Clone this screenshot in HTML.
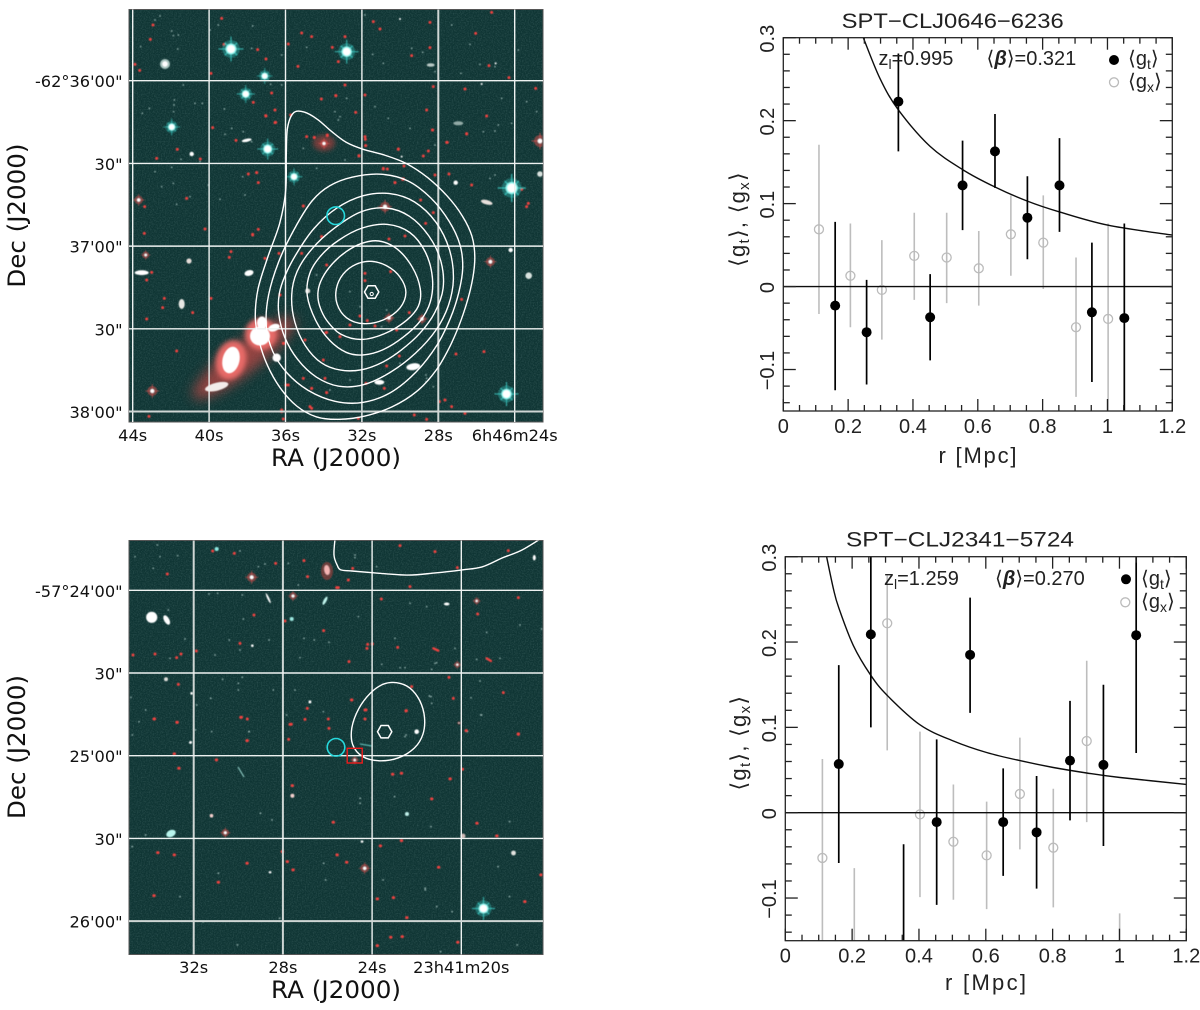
<!DOCTYPE html>
<html lang="en">
<head>
<meta charset="utf-8">
<title>SPT cluster images and shear profiles</title>
<style>
html,body{margin:0;padding:0;background:#fff;width:1200px;height:1010px;overflow:hidden}
svg{display:block}
.sky-label{font-family:"DejaVu Sans","Liberation Sans",sans-serif;fill:#111}
.plot-label{font-family:"Liberation Sans","DejaVu Sans",sans-serif;fill:#222}
.sub{font-size:14px}
.ysub{font-size:15px}
.br{font-family:"DejaVu Sans","Liberation Sans",sans-serif}
.rd{stroke:#ec4341;fill:none;stroke-linecap:round}
.gy{stroke:#b4d0cc;fill:none;stroke-linecap:round;opacity:.8}
.wh{stroke:#fff;fill:none;stroke-linecap:round}
</style>
</head>
<body>
<svg id="fig" xmlns="http://www.w3.org/2000/svg" width="1200" height="1010" viewBox="0 0 1200 1010">
<defs>
  <clipPath id="clipA"><rect x="129" y="9.5" width="414" height="412.5"/></clipPath>
  <clipPath id="clipB"><rect x="129" y="540.5" width="414" height="414"/></clipPath>
  <filter id="soft" x="-5%" y="-5%" width="110%" height="110%"><feGaussianBlur stdDeviation="0.4"/></filter>
  <filter id="halo" x="-60%" y="-60%" width="220%" height="220%"><feGaussianBlur stdDeviation="6"/></filter>
  <filter id="halo2" x="-60%" y="-60%" width="220%" height="220%"><feGaussianBlur stdDeviation="2.4"/></filter>
  <filter id="line-soft" x="-2%" y="-2%" width="104%" height="104%"><feGaussianBlur stdDeviation="0.3"/></filter>
  <filter id="grain" x="0" y="0" width="100%" height="100%">
    <feTurbulence type="fractalNoise" baseFrequency="0.75" numOctaves="2" seed="4"/>
    <feColorMatrix type="matrix" values="0 0 0 0 0.32  0 0 0 0 0.5  0 0 0 0 0.48  0 0 0 1.1 -0.42"/>
  </filter>
  <g id="star-c">
    <circle r="7" fill="#35d2cc" opacity=".35"/>
    <path d="M-10 0H10M0-10V10M-5-5L5 5M-5 5L5-5" stroke="#3fd8d0" stroke-width="1" opacity=".7"/>
    <circle r="4.4" fill="#8ff4ee"/>
    <circle r="3.2" fill="#fff"/>
  </g>
  <g id="star-r">
    <circle r="5" fill="#e04d4b" opacity=".5"/>
    <path d="M-7 0H7M0-7V7" stroke="#e25a58" stroke-width=".8" opacity=".7"/>
    <circle r="2" fill="#fff"/>
  </g>
</defs>

<!-- TOP SKY IMAGE -->
<g id="skyA">
  <g clip-path="url(#clipA)">
    <rect x="129" y="9.5" width="414" height="412.5" fill="#0f3534"/>
    <rect x="129" y="9.5" width="414" height="412.5" filter="url(#grain)" opacity=".35"/>
    <g>
      <ellipse cx="244" cy="358" rx="64" ry="15" transform="rotate(-38 244 358)" fill="#b04644" opacity=".8" filter="url(#halo)"/>
      <ellipse cx="324" cy="143" rx="11" ry="8" fill="#a8403e" opacity=".65" filter="url(#halo2)"/>
      <ellipse cx="261" cy="334" rx="16" ry="16" fill="#ee6d6a" opacity=".95" filter="url(#halo2)"/>
      <ellipse cx="231" cy="360" rx="15" ry="20" transform="rotate(15 231 360)" fill="#ee6d6a" opacity=".95" filter="url(#halo2)"/>
    </g>
    <g filter="url(#soft)">
      <g transform="translate(125,5) scale(.3333)">
        <path class="gy" stroke-width="5" d="M140 78h0M145 92h0M160 90h0M105 33h0M383 63h0M545 127h0M470 150h0M437 238h0M148 285h0M147 300h0M146 320h0M232 295h0M52 325h0M73 310h0M298 312h0M450 315h0M300 388h0M320 370h0M355 380h0M175 240h0M210 295h0M145 535h0M110 545h0M155 598h0M285 583h0M360 570h0M380 410h0M470 240h0M630 320h0M640 345h0M535 430h0M47 125h0M90 45h0M158 132h0M280 60h0M255 75h0M380 130h0M575 490h0M168 463h0M140 487h0M90 500h0M250 540h0M195 575h0M353 515h0M225 470h0"/>
      </g>
      <g transform="translate(335,5) scale(.3333)">
        <path class="gy" stroke-width="5" d="M90 30h0M113 148h0M145 175h0M230 130h0M263 142h0M350 60h0M405 118h0M435 178h0M480 185h0M378 205h0M550 135h0M500 280h0M575 290h0M605 320h0M530 355h0M445 380h0M480 378h0M35 280h0M120 305h0M160 340h0M225 370h0M490 360h0M465 520h0M480 510h0M300 420h0M30 465h0M15 335h0M300 200h0"/>
        <path class="wh" stroke-width="6" d="M440 237h0M482 175h0M200 455h0M195 42h0"/>
      </g>
      <g transform="translate(250,260) scale(.3333)">
        <path class="gy" stroke-width="5" d="M300 95h0M200 45h0M410 150h0M450 310h0M530 355h0M528 345h0M528 365h0M550 380h0M330 140h0M395 200h0M240 390h0M300 360h0"/>
      </g>
      <g transform="translate(125,5) scale(.3333)">
        <path class="rd" stroke-width="9" d="M84 60h0M76 103h0M290 40h0M297 118h0M423 162h0M398 134h0M560 95h0M622 127h0M519 184h0M530 84h0M490 117h0M44 196h0M30 178h0M258 205h0M440 264h0M385 292h0M589 282h0M633 272h0M263 368h0M333 406h0M423 333h0M452 352h0M370 507h0M535 603h0M59 605h0M157 433h0M226 462h0M395 503h0M400 533h0M95 460h0M185 580h0M568 398h0M597 416h0M607 392h0M545 395h0"/>
      </g>
      <g transform="translate(335,5) scale(.3333)">
        <path class="rd" stroke-width="9" d="M135 72h0M230 152h0M285 52h0M115 50h0M285 128h0M30 95h0M10 170h0M470 22h0M422 85h0M462 182h0M522 218h0M295 245h0M390 252h0M602 250h0M275 315h0M292 375h0M395 386h0M335 412h0M455 333h0M90 395h0M92 422h0M190 432h0M72 452h0M280 438h0M265 453h0M145 490h0M157 492h0M207 483h0M180 533h0M205 522h0M300 510h0M342 507h0M410 540h0M560 553h0M580 595h0M575 605h0M30 240h0M90 270h0M62 322h0M2 272h0"/>
      </g>
      <g transform="translate(125,215) scale(.3333)">
        <path class="rd" stroke-width="9" d="M58 55h0M240 42h0M383 58h0M400 43h0M318 110h0M313 127h0M420 130h0M80 172h0M65 195h0M118 250h0M65 312h0M203 293h0M113 278h0M258 250h0M465 240h0M155 408h0M72 604h0M475 612h0M470 590h0M462 115h0M530 115h0M605 150h0M590 65h0M605 352h0M540 375h0M478 385h0M600 490h0M560 520h0M605 533h0M555 575h0M490 510h0"/>
      </g>
      <g transform="translate(250,260) scale(.3333)">
        <path class="rd" stroke-width="9" d="M90 105h0M345 40h0M345 62h0M422 35h0M352 182h0M330 168h0M478 158h0M635 118h0M228 218h0M100 250h0M410 318h0M448 288h0M160 355h0M185 385h0M230 398h0M348 370h0M403 385h0M108 375h0M185 445h0M95 450h0M325 475h0M493 465h0M530 478h0M585 420h0M605 440h0M568 425h0M645 460h0M702 275h0M618 282h0M300 195h0M375 198h0M440 210h0M270 230h0M220 300h0"/>
      </g>
      <g transform="translate(250,100) scale(.3333)">
        <path class="rd" stroke-width="9" d="M193 112h0M232 105h0M160 318h0M8 405h0M215 410h0M346 118h0M347 137h0M327 168h0M445 148h0M400 207h0M435 248h0M458 238h0M527 370h0M417 417h0M550 338h0M512 300h0M465 408h0M548 90h0M650 102h0M592 127h0M75 30h0M47 47h0M20 218h0M75 68h0M122 45h0"/>
      </g>
      <g>
        <use href="#star-c" transform="translate(231,49) scale(1.25)"/>
        <use href="#star-c" transform="translate(267.7,149) scale(1.05)"/>
        <use href="#star-c" transform="translate(171.7,127) scale(.85)"/>
        <use href="#star-c" transform="translate(245.7,94) scale(.9)"/>
        <use href="#star-c" transform="translate(264.7,76) scale(.8)"/>
        <use href="#star-c" transform="translate(294,176.7) scale(.85)"/>
        <use href="#star-c" transform="translate(346.7,51.7) scale(1.2)"/>
        <use href="#star-c" transform="translate(511.7,188) scale(1.4)"/>
        <use href="#star-c" transform="translate(506.5,394) scale(1.2)"/>
        <use href="#star-r" transform="translate(540,141) scale(1.2)"/>
        <use href="#star-r" transform="translate(385,206.7) scale(1)"/>
        <use href="#star-r" transform="translate(152.3,391) scale(1)"/>
        <use href="#star-r" transform="translate(138.7,200) scale(.85)"/>
        <use href="#star-r" transform="translate(145.7,255) scale(.7)"/>
        <use href="#star-r" transform="translate(490.4,261.7) scale(.9)"/>
        <use href="#star-r" transform="translate(422,319) scale(.8)"/>
        <use href="#star-r" transform="translate(389,318) scale(.8)"/>
        <use href="#star-r" transform="translate(324,143.5) scale(.8)"/>
      </g>
      <g fill="#fff">
        <ellipse cx="165" cy="64" rx="5" ry="5" fill="#a9c4bf"/><circle cx="165" cy="64" r="2.7"/>
        <circle cx="191.7" cy="154" r="2.2"/>
        <ellipse cx="246.7" cy="140.3" rx="5" ry="1.6" transform="rotate(-12 246.7 140.3)"/>
        <ellipse cx="458.3" cy="123.3" rx="5" ry="2" fill="#92aaa6"/>
        <ellipse cx="430.7" cy="65" rx="4" ry="1.8" fill="#b7c8c4"/>
        <ellipse cx="486.7" cy="202.3" rx="6" ry="2.2" transform="rotate(15 486.7 202.3)" fill="#e8e0dc"/>
        <circle cx="455.7" cy="182.7" r="2.2"/>
        <circle cx="540" cy="174" r="2.8" fill="#d8e2de"/>
        <circle cx="528.7" cy="275.7" r="3.3" fill="#d8e2de"/>
        <circle cx="510.7" cy="250" r="2.2"/>
        <ellipse cx="413.3" cy="366.7" rx="7" ry="3.4" transform="rotate(-8 413.3 366.7)"/>
        <ellipse cx="379.3" cy="382.3" rx="5" ry="2.4"/>
        <ellipse cx="141.7" cy="272.7" rx="7" ry="2.4"/>
        <ellipse cx="249" cy="273" rx="4.6" ry="2.8" transform="rotate(-15 249 273)"/>
        <ellipse cx="181.7" cy="304" rx="3" ry="5" fill="#e8e8e4"/>
        <circle cx="189" cy="261" r="2.6" fill="#e4dcd8"/>
        <circle cx="307.7" cy="291" r="2.5" fill="#dcdcd8"/>
        <circle cx="276.7" cy="357.7" r="4.2"/>
        <ellipse cx="216.7" cy="386.7" rx="12" ry="4" transform="rotate(-14 216.7 386.7)" fill="#f3ecea"/>
        <ellipse cx="231" cy="360" rx="8.5" ry="13.5" transform="rotate(13 231 360)"/>
        <ellipse cx="260" cy="336" rx="10" ry="9.5"/>
        <ellipse cx="262" cy="323" rx="5" ry="6.5"/>
        <ellipse cx="274" cy="327.7" rx="6" ry="3.6" transform="rotate(-20 274 327.7)"/>
      </g>
    </g>
  </g>
  <rect x="129" y="9.5" width="414" height="412.5" fill="none" stroke="#555" stroke-width="1"/>
</g>
<g id="gridA"></g>
<g id="contA" clip-path="url(#clipA)"></g>
<g fill="none">
  <circle cx="335.7" cy="215.7" r="8.8" stroke="#27d8dc" stroke-width="1.6"/>
  <polygon points="364.5,292 368,285.8 375.2,285.8 378.8,292 375.2,298.2 368,298.2" stroke="#fff" stroke-width="1.5"/>
  <circle cx="371.7" cy="294" r="1.6" stroke="#fff" stroke-width="1"/>
</g>
<g id="labelsA"></g>
<text class="sky-label" x="336" y="466" font-size="24" text-anchor="middle" textLength="130" lengthAdjust="spacingAndGlyphs">RA (J2000)</text>
<text class="sky-label" transform="translate(25,215.6) rotate(-90)" font-size="24" text-anchor="middle" textLength="144" lengthAdjust="spacingAndGlyphs">Dec (J2000)</text>

<!-- BOTTOM SKY IMAGE -->
<g id="skyB">
  <g clip-path="url(#clipB)">
    <rect x="129" y="540.5" width="414" height="414" fill="#0f3534"/>
    <rect x="129" y="540.5" width="414" height="414" filter="url(#grain)" opacity=".35"/>
    <g filter="url(#soft)">
      <ellipse cx="327" cy="571" rx="6" ry="9" fill="#a8403e" opacity=".6"/>
      <g transform="translate(125,535) scale(.3333)">
        <path class="gy" stroke-width="5" d="M30 65h0M85 100h0M105 65h0M158 62h0M97 30h0M352 180h0M278 175h0M252 177h0M355 252h0M345 48h0M400 95h0M420 87h0M490 85h0M545 125h0M520 150h0M313 315h0M345 345h0M130 225h0M180 312h0M135 370h0M270 360h0M215 510h0M340 445h0M340 465h0M352 427h0M293 433h0M445 465h0M510 465h0M18 487h0M62 525h0M42 560h0M22 600h0M260 590h0M372 590h0M485 540h0M595 530h0M432 315h0M537 310h0M568 315h0M612 322h0M525 368h0"/>
        <path class="wh" stroke-width="8" d="M555 500h0M382 332h0M200 475h0M197 622h0"/>
      </g>
      <g transform="translate(335,535) scale(.3333)">
        <path class="gy" stroke-width="5" d="M70 245h0M60 68h0M125 95h0M300 385h0M305 383h0M140 388h0M195 398h0M210 398h0M290 403h0M283 483h0M408 488h0M440 540h0M435 438h0M360 340h0M425 373h0M455 372h0M495 370h0M555 270h0M620 282h0M225 205h0M275 215h0M455 292h0M210 605h0M290 505h0M180 310h0M60 60h0"/>
      </g>
      <g transform="scale(.3831,.3333) translate(0,1590)">
        <path class="gy" stroke-width="5" d="M680 850h0M710 870h0M570 1030h0M1110 1080h0M1330 1100h0M850 1050h0M940 805h0M1030 800h0M1125 890h0M1180 1145h0M470 1100h0M1300 1010h0M845 1000h0M1000 1050h0M1150 1265h0M620 1245h0M730 1165h0M1350 1245h0M530 1175h0M345 950h0M380 915h0M650 605h0M510 600h0M1060 615h0M1220 605h0M1125 500h0M1255 555h0M550 505h0M1330 875h0M1110 1075h0M1140 1130h0M940 820h0"/>
        <path class="wh" stroke-width="7" d="M945 935h0M705 1027h0M809 517h0M497 638h0"/>
        <path class="rd" stroke-width="9" d="M1175 747h0M1048 730h0M1025 733h0M1207 718h0M1127 807h0M763 767h0M645 632h0M462 577h0M565 690h0M467 715h0M455 672h0M412 968h0M455 975h0M737 965h0M750 995h0M765 1020h0M905 997h0M985 1107h0M1027 1103h0M1062 1163h0M402 1097h0M570 1057h0M1245 880h0M1297 918h0M870 877h0M1048 932h0M993 948h0M1020 1222h0M1050 1220h0M985 1247h0M1195 1237h0M1370 1115h0M1412 1035h0M1353 612h0M1217 602h0M1060 543h0M955 540h0M918 510h0M630 562h0M403 567h0M760 583h0M645 1000h0M880 975h0M1145 1012h0"/>
      </g>
      <g transform="translate(125,535) scale(.3333)">
        <path class="rd" stroke-width="9" d="M127 117h0M452 85h0M537 77h0M263 48h0M328 55h0M548 125h0M387 240h0M345 325h0M214 348h0M24 360h0M90 357h0M168 357h0M155 368h0M596 287h0M480 258h0M160 448h0M87 552h0M157 562h0M347 547h0M367 552h0M495 568h0M540 553h0M610 552h0M612 580h0M491 613h0M367 617h0M547 520h0M640 158h0"/>
      </g>
      <g transform="translate(335,535) scale(.3333)">
        <path class="rd" stroke-width="9" d="M195 32h0M300 50h0M520 47h0M53 100h0M40 135h0M5 158h0M139 192h0M225 155h0M230 455h0M214 527h0M90 525h0M90 552h0M50 495h0M355 490h0M550 598h0M98 328h0M112 327h0M96 340h0M42 380h0M188 337h0M428 237h0M550 188h0M367 98h0M505 473h0M342 427h0"/>
        <path class="rd" stroke-width="7" d="M295 340L310 347M455 370L468 378"/>
      </g>
      <g fill="#fff">
        <use href="#star-c" transform="translate(483.5,908.5) scale(1.15)"/>
        <use href="#star-r" transform="translate(251.7,577.3) scale(.95)"/>
        <use href="#star-r" transform="translate(225.3,832.7) scale(.75)"/>
        <use href="#star-r" transform="translate(364.7,868.3) scale(.85)"/>
        <use href="#star-r" transform="translate(459,723) scale(.3)"/>
        <use href="#star-r" transform="translate(293,596) scale(.75)"/>
        <use href="#star-r" transform="translate(476.7,601) scale(.6)"/>
        <use href="#star-r" transform="translate(457.3,664.7) scale(.6)"/>
        <use href="#star-r" transform="translate(354.7,760) scale(.65)"/>
        <ellipse cx="327" cy="570" rx="2.8" ry="5" transform="rotate(-10 327 570)" fill="#f4b4b2"/>
        <circle cx="151.7" cy="617.3" r="5.6"/>
        <ellipse cx="166.7" cy="620" rx="2.6" ry="5.2" transform="rotate(-30 166.7 620)"/>
        <ellipse cx="325" cy="600.7" rx="1.5" ry="4.6" transform="rotate(28 325 600.7)" fill="#bff4ec"/>
        <ellipse cx="268.3" cy="598.3" rx="1" ry="5.5" transform="rotate(-25 268.3 598.3)"/>
        <circle cx="291.7" cy="619" r="2" fill="#9ce8e0"/>
        <circle cx="216.7" cy="549" r="2" fill="#8ce8e0"/>
        <circle cx="166" cy="679.3" r="2" fill="#dcdcd8"/>
        <ellipse cx="446.7" cy="604" rx="2.8" ry="1.5"/>
        <ellipse cx="534.3" cy="557.7" rx="1.5" ry="2.8"/>
        <circle cx="416.7" cy="731.7" r="2.3"/>
        <ellipse cx="171" cy="833.5" rx="5" ry="3.4" transform="rotate(-25 171 833.5)" fill="#b8f4ec"/>
        <circle cx="513.5" cy="853" r="2.4" fill="#e4e4e0"/>
        <circle cx="407" cy="814" r="2" fill="#bff0ea"/>
        <circle cx="292.4" cy="795.7" r="2" fill="#f3cfcc"/>
        <circle cx="211.5" cy="815.7" r="1.8" fill="#f3cfcc"/>
        <circle cx="463" cy="836" r="2.4" fill="#d2bcb8"/>
        <path d="M238 767L244 777" stroke="#9cdcd4" stroke-width="1" fill="none"/>
        <path d="M360 744L372 746" stroke="#6ccfc8" stroke-width="1" fill="none"/>
      </g>
    </g>
  </g>
  <rect x="129" y="540.5" width="414" height="414" fill="none" stroke="#555" stroke-width="1"/>
</g>
<g id="gridB"></g>
<g id="contB" clip-path="url(#clipB)"></g>
<g fill="none">
  <circle cx="336" cy="747.3" r="8.8" stroke="#27d8dc" stroke-width="1.6"/>
  <polygon points="377.5,731.7 381,725.5 388.3,725.5 391.8,731.7 388.3,737.9 381,737.9" stroke="#fff" stroke-width="1.5"/>
  <rect x="347.2" y="748.3" width="15" height="14.7" stroke="#ee1c1c" stroke-width="1.4"/>
</g>
<g id="labelsB"></g>
<text class="sky-label" x="336" y="998" font-size="24" text-anchor="middle" textLength="130" lengthAdjust="spacingAndGlyphs">RA (J2000)</text>
<text class="sky-label" transform="translate(25,747) rotate(-90)" font-size="24" text-anchor="middle" textLength="144" lengthAdjust="spacingAndGlyphs">Dec (J2000)</text>

<!-- TOP SHEAR PLOT -->
<g id="plotA" filter="url(#line-soft)"></g>
<text class="plot-label" x="952.7" y="28" font-size="21" text-anchor="middle" textLength="222" lengthAdjust="spacingAndGlyphs">SPT−CLJ0646−6236</text>
<text class="plot-label" x="878.5" y="65" font-size="20">z<tspan class="sub" dy="4">l</tspan><tspan dy="-4">=0.995</tspan></text>
<text class="plot-label" x="986.5" y="65" font-size="20"><tspan class="br">⟨</tspan><tspan font-style="italic" font-weight="bold">β</tspan><tspan class="br">⟩</tspan>=0.321</text>
<circle cx="1114" cy="60" r="5" fill="#000"/>
<text class="plot-label" x="1128" y="65" font-size="20"><tspan class="br">⟨</tspan>g<tspan class="sub" dy="4">t</tspan><tspan class="br" dy="-4">⟩</tspan></text>
<circle cx="1114" cy="82.3" r="4.5" fill="none" stroke="#bbb" stroke-width="1.3"/>
<text class="plot-label" x="1128" y="88" font-size="20"><tspan class="br">⟨</tspan>g<tspan class="sub" dy="4">x</tspan><tspan class="br" dy="-4">⟩</tspan></text>
<text class="plot-label" x="977.5" y="463" font-size="22" text-anchor="middle" textLength="78" lengthAdjust="spacing">r [Mpc]</text>
<text class="plot-label" transform="translate(745,219) rotate(-90)" font-size="22" letter-spacing="1.3" text-anchor="middle"><tspan class="br">⟨</tspan>g<tspan class="ysub" dy="4">t</tspan><tspan class="br" dy="-4">⟩</tspan>,  <tspan class="br">⟨</tspan>g<tspan class="ysub" dy="4">x</tspan><tspan class="br" dy="-4">⟩</tspan></text>

<!-- BOTTOM SHEAR PLOT -->
<g id="plotB" filter="url(#line-soft)"></g>
<text class="plot-label" x="960" y="546.5" font-size="21" text-anchor="middle" textLength="228" lengthAdjust="spacingAndGlyphs">SPT−CLJ2341−5724</text>
<text class="plot-label" x="884" y="585" font-size="20">z<tspan class="sub" dy="4">l</tspan><tspan dy="-4">=1.259</tspan></text>
<text class="plot-label" x="995" y="585" font-size="20"><tspan class="br">⟨</tspan><tspan font-style="italic" font-weight="bold">β</tspan><tspan class="br">⟩</tspan>=0.270</text>
<circle cx="1126" cy="579.3" r="5" fill="#000"/>
<text class="plot-label" x="1141" y="585" font-size="20"><tspan class="br">⟨</tspan>g<tspan class="sub" dy="4">t</tspan><tspan class="br" dy="-4">⟩</tspan></text>
<circle cx="1125.3" cy="602.3" r="4.5" fill="none" stroke="#bbb" stroke-width="1.3"/>
<text class="plot-label" x="1141" y="608" font-size="20"><tspan class="br">⟨</tspan>g<tspan class="sub" dy="4">x</tspan><tspan class="br" dy="-4">⟩</tspan></text>
<text class="plot-label" x="985.5" y="990" font-size="22" text-anchor="middle" textLength="81" lengthAdjust="spacing">r [Mpc]</text>
<text class="plot-label" transform="translate(746,742.6) rotate(-90)" font-size="22" letter-spacing="1.3" text-anchor="middle"><tspan class="br">⟨</tspan>g<tspan class="ysub" dy="4">t</tspan><tspan class="br" dy="-4">⟩</tspan>,  <tspan class="br">⟨</tspan>g<tspan class="ysub" dy="4">x</tspan><tspan class="br" dy="-4">⟩</tspan></text>
</svg>

<script>
// ---------- Shear profile data: top cluster ----------
const topTanR = [0.16,0.257,0.355,0.453,0.553,0.653,0.753,0.852,0.952,1.052];
const topTanG = [-0.023,-0.055,0.223,-0.037,0.122,0.163,0.083,0.122,-0.031,-0.038];
const topTanHi = [0.078,0.008,0.281,0.015,0.176,0.208,0.133,0.179,0.053,0.076];
const topTanLo = [-0.125,-0.118,0.163,-0.089,0.068,0.119,0.033,0.066,-0.115,-0.152];
const topCrossR = [0.11,0.207,0.304,0.404,0.504,0.603,0.702,0.802,0.903,1.002];
const topCrossG = [0.069,0.013,-0.004,0.037,0.035,0.022,0.063,0.053,-0.049,-0.039];
const topCrossHi = [0.171,0.076,0.056,0.089,0.089,0.067,0.110,0.110,0.035,0.076];
const topCrossLo = [-0.033,-0.049,-0.064,-0.016,-0.020,-0.023,0.013,-0.003,-0.133,-0.152];
const topModelR = [0.2468,0.298,0.355,0.453,0.553,0.653,0.753,0.852,1.002,1.2];
const topModelG = [0.30,0.251,0.213,0.169,0.141,0.120,0.103,0.090,0.074,0.062];

// ---------- Shear profile data: bottom cluster ----------
const botTanR = [0.16,0.256,0.354,0.453,0.553,0.652,0.752,0.852,0.952,1.05];
const botTanG = [0.057,0.209,-0.17,-0.011,0.185,-0.011,-0.023,0.061,0.056,0.208];
const botTanHi = [0.173,0.31,-0.037,0.086,0.252,0.052,0.043,0.131,0.150,0.31];
const botTanLo = [-0.059,0.100,-0.30,-0.108,0.117,-0.074,-0.089,-0.009,-0.039,0.070];
const botCrossR = [0.111,0.2065,0.305,0.403,0.503,0.6025,0.702,0.802,0.902,1.0005];
const botCrossG = [-0.053,-0.17,0.222,-0.002,-0.034,-0.050,0.022,-0.041,0.084,-0.20];
const botCrossHi = [0.063,-0.065,0.278,0.095,0.033,0.013,0.088,0.028,0.178,-0.118];
const botCrossLo = [-0.152,-0.30,0.073,-0.099,-0.102,-0.113,-0.043,-0.111,-0.011,-0.30];
const botModelR = [0.1237,0.1436,0.16,0.2035,0.256,0.305,0.403,0.503,0.6025,0.702,0.802,0.902,1.002,1.2];
const botModelG = [0.30,0.263,0.240,0.196,0.161,0.1375,0.103,0.084,0.0705,0.061,0.053,0.0465,0.0412,0.0332];

// ---------- Shared axis ticks ----------
const xMajorTicks = [0,0.2,0.4,0.6,0.8,1,1.2];
const xMajorLabels = ['0','0.2','0.4','0.6','0.8','1','1.2'];
const xMinorTicks = [0.05,0.1,0.15,0.25,0.3,0.35,0.45,0.5,0.55,0.65,0.7,0.75,0.85,0.9,0.95,1.05,1.1,1.15];
const yMajorTicks = [-0.1,0,0.1,0.2,0.3];
const yMajorLabels = ['−0.1','0','0.1','0.2','0.3'];
const yMinorTicks = [-0.14,-0.12,-0.08,-0.06,-0.04,-0.02,0.02,0.04,0.06,0.08,0.12,0.14,0.16,0.18,0.22,0.24,0.26,0.28];

// ---------- Sky image axes ----------
const topRaTicks = [44,40,36,32,28,24];
const topRaLabels = ['44s','40s','36s','32s','28s','6h46m24s'];
const topDecTicks = [0,30,60,90,120];
const topDecLabels = ['-62°36\'00"','30"','37\'00"','30"','38\'00"'];
const botRaTicks = [32,28,24,20];
const botRaLabels = ['32s','28s','24s','23h41m20s'];
const botDecTicks = [0,30,60,90,120];
const botDecLabels = ['-57°24\'00"','30"','25\'00"','30"','26\'00"'];

// Contours: [RA seconds, Dec arcsec below the first labelled declination]
const topContour1 = [[36.03,25.1],[35.91,16.7],[35.59,12.2],[34.98,11.2],[34.37,13.6],[33.5,19.1],[32.8,22.7],[32.01,24.8],[30.88,26.9],[29.65,29.7],[28.61,34.8],[27.56,42.1],[26.69,49.3],[26.25,56],[26.13,65],[26.2,72.3],[26.69,84.3],[27.39,96.6],[28.08,103.8],[29.13,113.3],[30.36,118.4],[31.93,121.3],[33.15,122.7],[34.37,122],[35.41,118.4],[36.29,111.1],[36.98,102.4],[37.34,95.1],[37.56,85.7],[37.48,75.9],[37.07,65],[36.13,49.4],[35.94,43.3]];
const topContour2 = [[36.92,78.5],[36.39,64.3],[35.24,51.6],[34.56,43.3],[33.77,38.6],[32.62,35.3],[30.9,33.8],[29.64,36],[28.43,42.2],[27.39,51.6],[26.86,60.3],[26.71,66.8],[26.97,77.7],[27.39,85.7],[28.02,95.1],[29.12,106],[30.53,113.3],[32,116.5],[33.3,116.5],[34.87,112.2],[35.92,106],[36.65,97.7],[36.97,89.3]];
const topContour3 = [[36.34,77],[35.97,70.5],[35.4,63.6],[34.56,53.1],[33.3,45.8],[31.94,42.2],[30.53,41.1],[29.32,43.3],[28.07,51.6],[27.39,61.4],[27.23,72.3],[27.49,81.4],[28.12,90.4],[29.12,98.4],[30.53,105.7],[32,110.7],[33.15,110.7],[34.35,107.5],[35.4,101.3],[36.03,93],[36.34,84.3]];
const topContour4 = [[35.66,77],[35.45,69.4],[34.56,61.4],[33.51,53.8],[32,46.9],[30.69,46.5],[29.64,48.7],[28.43,56.7],[27.86,65],[27.75,75.9],[28.17,83.9],[28.96,91.5],[30.01,97.7],[30.9,102],[32,104.9],[33.15,104.9],[34.09,102.4],[34.98,96.2],[35.5,87.9]];
const topContour5 = [[34.98,77],[34.72,69.8],[34.09,64.3],[33.25,57.8],[32,53.1],[30.63,52.3],[29.48,54.9],[28.7,61.4],[28.28,72.3],[28.43,80.6],[28.96,86.8],[29.85,93],[30.9,97.7],[32,99.5],[32.78,98.4],[33.67,94.1],[34.35,87.9]];
const topContour6 = [[34.3,77],[34.09,71.6],[33.57,66.5],[32.78,62.1],[32,58.9],[31.16,58.5],[30.16,60.3],[29.38,66.8],[28.91,77],[29.06,81.4],[29.64,86.1],[30.69,91.5],[32,94.4],[33.15,92.6],[33.83,86.1],[34.19,81.4]];
const topContour7 = [[31.58,65.8],[30.69,66.8],[30.01,71.2],[29.69,77],[29.9,82.1],[30.9,86.8],[32,88.6],[32.78,86.1],[33.3,80.6],[33.36,75.9],[32.99,69.8],[32.26,66.5]];
const botContourOpen = [[25.66,-19],[25.71,-12.8],[25.57,-9.2],[25.4,-7.4],[24.9,-7],[23.87,-6.3],[22.39,-5.5],[21.18,-6.3],[19.97,-7.4],[19.07,-8.5],[18.17,-11.7],[17.28,-14.6],[16.25,-19.7]];
const botContourClosed = [[22.94,33.7],[22.3,35.1],[21.85,39.8],[21.66,46.3],[21.75,52.5],[22.04,56.8],[22.82,60.9],[23.68,61.9],[24.45,60.5],[24.88,55.5],[24.91,50.7],[24.63,42.7],[24.02,36.9],[23.51,34.3]];

const NS = 'http://www.w3.org/2000/svg';
function mk(parent, tag, attrs, text) {
  const el = document.createElementNS(NS, tag);
  for (const k in attrs) el.setAttribute(k, attrs[k]);
  if (text !== undefined) el.textContent = text;
  parent.appendChild(el);
  return el;
}
function smoothPath(pts, closed) {
  const n = pts.length;
  const at = i => closed ? pts[(i + n) % n] : pts[Math.max(0, Math.min(n - 1, i))];
  let d = 'M' + pts[0][0].toFixed(1) + ' ' + pts[0][1].toFixed(1);
  const last = closed ? n : n - 1;
  for (let i = 0; i < last; i++) {
    const p0 = at(i - 1), p1 = at(i), p2 = at(i + 1), p3 = at(i + 2);
    const c1x = p1[0] + (p2[0] - p0[0]) / 6, c1y = p1[1] + (p2[1] - p0[1]) / 6;
    const c2x = p2[0] - (p3[0] - p1[0]) / 6, c2y = p2[1] - (p3[1] - p1[1]) / 6;
    d += 'C' + c1x.toFixed(1) + ' ' + c1y.toFixed(1) + ' ' + c2x.toFixed(1) + ' ' + c2y.toFixed(1) + ' ' + p2[0].toFixed(1) + ' ' + p2[1].toFixed(1);
  }
  return d + (closed ? 'Z' : '');
}
// Removes hand-reading wobble from a closed contour without shrinking it
function relax(pts, factor) {
  const n = pts.length;
  return pts.map((p, i) => {
    const a = pts[(i - 1 + n) % n], b = pts[(i + 1) % n];
    return [p[0] + factor * ((a[0] + b[0]) / 2 - p[0]), p[1] + factor * ((a[1] + b[1]) / 2 - p[1])];
  });
}
function fairContour(pts) {
  let out = pts;
  for (let k = 0; k < 2; k++) out = relax(relax(out, 0.6), -0.62);
  return out;
}

// ---------- Sky panels ----------
function topRaX(s) { return 132.7 + (44 - s) * 19.1; }
function topDecY(a) { return 80.7 + a * 2.757; }
function botRaX(s) { return 193.7 + (32 - s) * 22.3; }
function botDecY(a) { return 590.3 + a * 2.757; }

function drawSkyGrid(gridId, labelId, raTicks, raLabels, decTicks, decLabels, xf, yf, box, tickBase, heavyRa, heavyDec) {
  const grid = document.getElementById(gridId);
  const labels = document.getElementById(labelId);
  raTicks.forEach((t, i) => {
    const x = xf(t);
    const heavy = heavyRa.includes(t);
    const line = mk(grid, 'line', {x1: x, x2: x, y1: box.y0, y2: box.y1, stroke: heavy ? '#cfd6d4' : '#eef2f1', 'stroke-width': heavy ? 2 : 1.4});
    
    
    const lab = mk(labels, 'text', {x: x, y: tickBase, 'font-size': 16.2, 'text-anchor': 'middle', class: 'sky-label'}, raLabels[i]);
    
    
  });
  decTicks.forEach((t, i) => {
    const y = yf(t);
    const heavy = heavyDec.includes(t);
    const line = mk(grid, 'line', {x1: box.x0, x2: box.x1, y1: y, y2: y, stroke: heavy ? '#cfd6d4' : '#eef2f1', 'stroke-width': heavy ? 2 : 1.4});
    
    
    const lab = mk(labels, 'text', {x: 122.6, y: y + 6.5, 'font-size': 16.2, 'text-anchor': 'end', class: 'sky-label'}, decLabels[i]);
    
    
  });
}
drawSkyGrid('gridA', 'labelsA', topRaTicks, topRaLabels, topDecTicks, topDecLabels, topRaX, topDecY, {x0: 129, x1: 543, y0: 9.5, y1: 422}, 441, [28], [120]);
drawSkyGrid('gridB', 'labelsB', botRaTicks, botRaLabels, botDecTicks, botDecLabels, botRaX, botDecY, {x0: 129, x1: 543, y0: 540.5, y1: 954.5}, 973, [32, 28], [120]);

function drawContour(groupId, pts, xf, yf, closed) {
  let px = pts.map(p => [xf(p[0]), yf(p[1])]);
  if (closed) px = fairContour(px);
  const path = mk(document.getElementById(groupId), 'path', {d: smoothPath(px, closed), fill: 'none', stroke: '#fff', 'stroke-width': 1.4});
  
  
}
[topContour1, topContour2, topContour3, topContour4, topContour5, topContour6, topContour7].forEach(c => drawContour('contA', c, topRaX, topDecY, true));
drawContour('contB', botContourOpen, botRaX, botDecY, false);
drawContour('contB', botContourClosed, botRaX, botDecY, true);

// ---------- Shear plots ----------
function drawShearPlot(id, clipId, box, s) {
  const root = document.getElementById(id);
  const X = r => box.x0 + (r / 1.2) * (box.x1 - box.x0);
  const Y = g => box.y1 - ((g + 0.15) / 0.45) * (box.y1 - box.y0);
  const clampY = g => Math.min(box.y1, Math.max(box.y0, Y(g)));
  const inRange = g => g >= -0.15 && g <= 0.3;

  const defs = mk(root, 'clipPath', {id: clipId});
  mk(defs, 'rect', {x: box.x0, y: box.y0, width: box.x1 - box.x0, height: box.y1 - box.y0});
  const plot = mk(root, 'g', {'clip-path': 'url(#' + clipId + ')'});
  
  

  s.crossR.forEach((r, i) => {
    const bar = mk(plot, 'line', {x1: X(r), x2: X(r), y1: clampY(s.crossHi[i]), y2: clampY(s.crossLo[i]), stroke: '#bdbdbd', 'stroke-width': 1.6});
    
    
  });
  s.crossR.forEach((r, i) => {
    if (!inRange(s.crossG[i])) return;
    const pt = mk(plot, 'circle', {cx: X(r), cy: Y(s.crossG[i]), r: 4.5, fill: '#fff', 'fill-opacity': 0, stroke: '#bbb', 'stroke-width': 1.3});
    
    
  });
  const zero = mk(plot, 'line', {x1: box.x0, x2: box.x1, y1: Y(0), y2: Y(0), stroke: '#111', 'stroke-width': 1.4});
  
  
  const model = mk(plot, 'path', {d: smoothPath(s.modelR.map((r, i) => [X(r), Y(s.modelG[i])]), false), fill: 'none', stroke: '#111', 'stroke-width': 1.4});
  
  
  s.tanR.forEach((r, i) => {
    const bar = mk(plot, 'line', {x1: X(r), x2: X(r), y1: clampY(s.tanHi[i]), y2: clampY(s.tanLo[i]), stroke: '#000', 'stroke-width': 1.7});
    
    
    if (!inRange(s.tanG[i])) return;
    const pt = mk(plot, 'circle', {cx: X(r), cy: Y(s.tanG[i]), r: 5, fill: '#000'});
    
    
  });

  const axes = mk(root, 'g', {stroke: '#222', 'stroke-width': 1.3, fill: 'none'});
  
  
  xMajorTicks.forEach(t => {
    mk(axes, 'line', {x1: X(t), x2: X(t), y1: box.y1, y2: box.y1 - 12});
    mk(axes, 'line', {x1: X(t), x2: X(t), y1: box.y0, y2: box.y0 + 12});
  });
  xMinorTicks.forEach(t => {
    mk(axes, 'line', {x1: X(t), x2: X(t), y1: box.y1, y2: box.y1 - 6});
    mk(axes, 'line', {x1: X(t), x2: X(t), y1: box.y0, y2: box.y0 + 6});
  });
  yMajorTicks.forEach(t => {
    mk(axes, 'line', {x1: box.x0, x2: box.x0 + 12.5, y1: Y(t), y2: Y(t)});
    mk(axes, 'line', {x1: box.x1, x2: box.x1 - 12.5, y1: Y(t), y2: Y(t)});
  });
  yMinorTicks.forEach(t => {
    mk(axes, 'line', {x1: box.x0, x2: box.x0 + 6.5, y1: Y(t), y2: Y(t)});
    mk(axes, 'line', {x1: box.x1, x2: box.x1 - 6.5, y1: Y(t), y2: Y(t)});
  });
  const frame = mk(axes, 'rect', {x: box.x0, y: box.y0, width: box.x1 - box.x0, height: box.y1 - box.y0});
  
  

  xMajorLabels.forEach((lab, i) => {
    const t = mk(root, 'text', {x: X(xMajorTicks[i]), y: box.y1 + 22, 'font-size': 20, 'text-anchor': 'middle', class: 'plot-label'}, lab);
    
    
  });
  yMajorLabels.forEach((lab, i) => {
    const yy = Y(yMajorTicks[i]) + 1;
    const t = mk(root, 'text', {transform: 'translate(' + (box.x0 - 9.5) + ',' + yy + ') rotate(-90)', 'font-size': 20, 'text-anchor': 'middle', class: 'plot-label'}, lab);
    
    
  });
}
drawShearPlot('plotA', 'plotClipA', {x0: 783.3, x1: 1172.3, y0: 37.7, y1: 411}, {
  tanR: topTanR, tanG: topTanG, tanHi: topTanHi, tanLo: topTanLo,
  crossR: topCrossR, crossG: topCrossG, crossHi: topCrossHi, crossLo: topCrossLo,
  modelR: topModelR, modelG: topModelG
});
drawShearPlot('plotB', 'plotClipB', {x0: 785.3, x1: 1186.3, y0: 556.7, y1: 940.7}, {
  tanR: botTanR, tanG: botTanG, tanHi: botTanHi, tanLo: botTanLo,
  crossR: botCrossR, crossG: botCrossG, crossHi: botCrossHi, crossLo: botCrossLo,
  modelR: botModelR, modelG: botModelG
});
</script>
</body>
</html>
